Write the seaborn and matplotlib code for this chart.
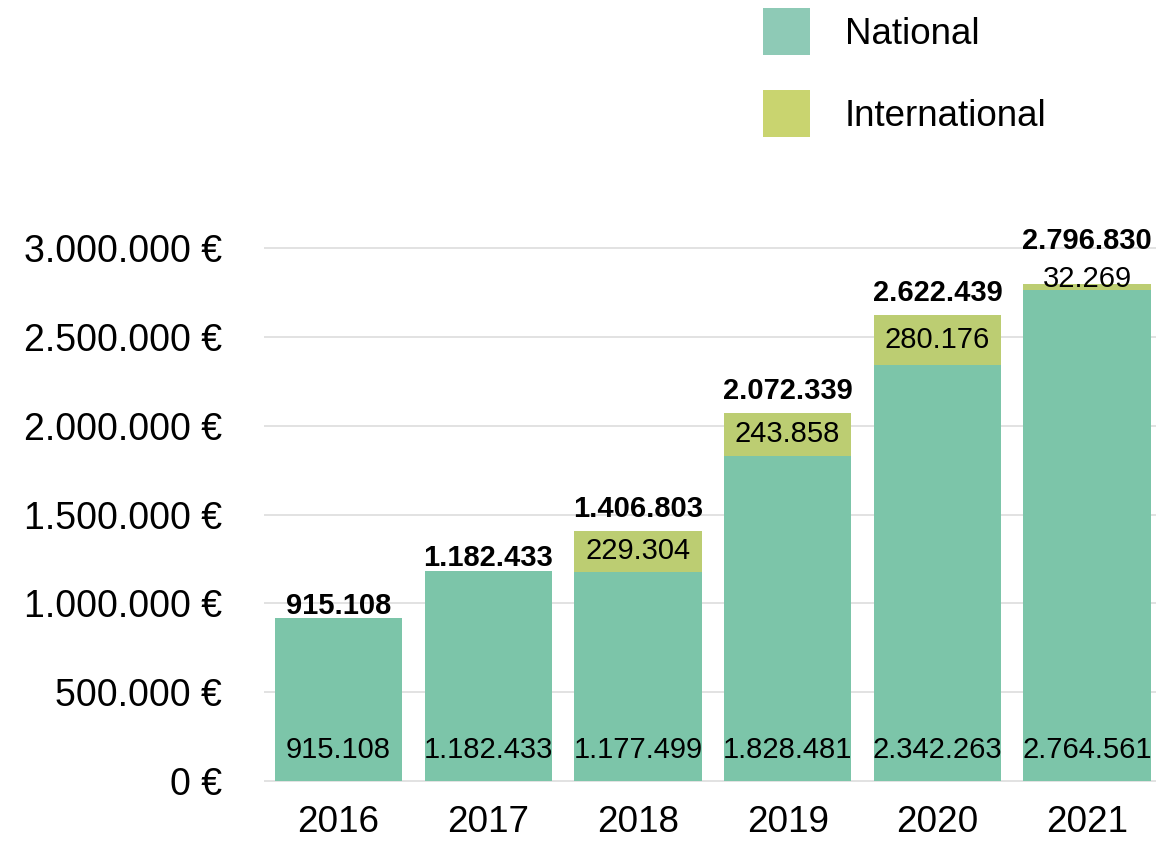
import pandas as pd
import seaborn as sns
import matplotlib.pyplot as plt
from matplotlib.patches import Patch

# Data
years = ['2016', '2017', '2018', '2019', '2020', '2021']
national = [915108, 1182433, 1177499, 1828481, 2342263, 2764561]
international = [0, 0, 229304, 243858, 280176, 32269]
y_ticks = [0, 500000, 1000000, 1500000, 2000000, 2500000, 3000000]

df = pd.DataFrame({'year': years, 'national': national, 'international': international})
df['total'] = df['national'] + df['international']


def fmt(v):
    # German style thousands separator
    return f'{v:,}'.replace(',', '.')


sns.set_theme(style='white')
plt.rcParams['font.family'] = ['Liberation Sans', 'DejaVu Sans']
plt.rcParams['text.color'] = 'black'

col_nat = '#7cc5a9'
col_int = '#bccd72'

fig = plt.figure(figsize=(11.56, 8.44), dpi=100)
ax = fig.add_axes([0.228, 0.0725, 0.772, 0.640])

# stacked bars: draw totals first, national on top
sns.barplot(data=df, x='year', y='total', color=col_int, saturation=1, width=0.85,
            errorbar=None, linewidth=0, ax=ax)
sns.barplot(data=df, x='year', y='national', color=col_nat, saturation=1, width=0.85,
            errorbar=None, linewidth=0, ax=ax)

for i, row in df.iterrows():
    nat, intl, tot = row['national'], row['international'], row['total']
    ax.annotate(fmt(nat), (i, 0), xytext=(0, 22), textcoords='offset points',
                ha='center', va='center', fontsize=21, color='black')
    if intl == 0:
        off = 9
    elif intl > 150000:
        ax.text(i, nat + intl / 2, fmt(intl), ha='center', va='center', fontsize=21, color='black')
        off = 16
    else:
        ax.annotate(fmt(intl), (i, tot), xytext=(0, 4), textcoords='offset points',
                    ha='center', va='center', fontsize=21, color='black')
        off = 31
    ax.annotate(fmt(tot), (i, tot), xytext=(0, off), textcoords='offset points',
                ha='center', va='center', fontsize=21, fontweight='bold', color='black',
                annotation_clip=False)

ax.set_ylim(-10000, 3030000)
ax.set_xlim(-0.5, 5.46)
ax.set_yticks(y_ticks)
ax.set_yticklabels([fmt(v) + ' €' for v in y_ticks])
ax.set_xlabel('')
ax.set_ylabel('')
ax.tick_params(axis='y', pad=30, labelsize=27, length=0, colors='black')
ax.tick_params(axis='x', pad=16, labelsize=26.6, length=0, colors='black')
ax.yaxis.grid(True, color='#dddddd', linewidth=1.2)
ax.xaxis.grid(False)
ax.set_axisbelow(True)
sns.despine(ax=ax, left=True, bottom=True)

handles = [Patch(facecolor='#8ecab6', edgecolor='none', label='National'),
           Patch(facecolor='#c9d46f', edgecolor='none', label='International')]
fig.legend(handles=handles, loc='upper left', bbox_to_anchor=(0.660, 0.9905),
           frameon=False, fontsize=26.5, handlelength=1.28, handleheight=1.59,
           handletextpad=0.95, labelspacing=0.95, borderpad=0, borderaxespad=0,
           labelcolor='black')

fig.savefig('out.png', dpi=100)
